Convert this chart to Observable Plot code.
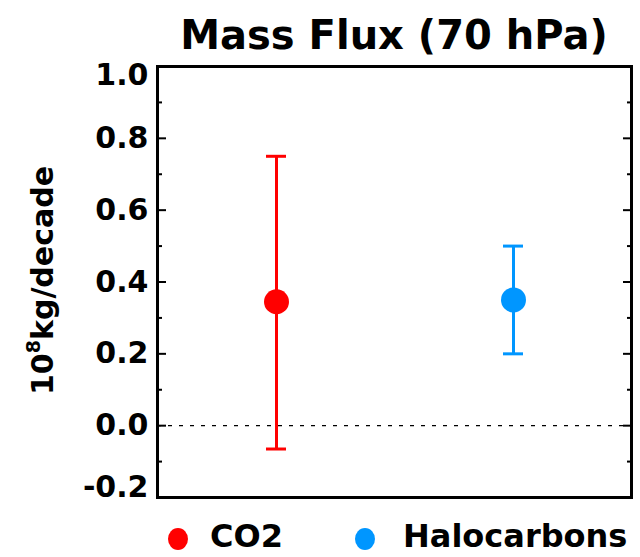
<!DOCTYPE html>
<html><head><meta charset="utf-8">
<script src="https://cdn.jsdelivr.net/npm/d3@7"></script>
<script src="https://cdn.jsdelivr.net/npm/@observablehq/plot@0.6"></script>
<style>
body{margin:0;background:#fff;}
#wrap{position:relative;width:640px;height:557px;overflow:hidden;font-family:"DejaVu Sans",sans-serif;font-weight:bold;color:#000;}
#chart{position:absolute;left:0;top:0;}
#title{position:absolute;left:157px;width:474px;top:12px;text-align:center;font-size:40px;line-height:normal;white-space:nowrap;}
#ylabel{position:absolute;left:-108px;width:300px;top:263px;height:35px;line-height:normal;font-size:30px;text-align:center;transform:rotate(-90deg);transform-origin:50% 50%;white-space:nowrap;}
#ylabel sup{font-size:19px;line-height:0;vertical-align:0;position:relative;top:-13px;}
.leg{position:absolute;top:517px;font-size:32px;line-height:normal;white-space:nowrap;}
.sw{position:absolute;width:20px;height:22px;border-radius:50%;top:528px;}
</style></head><body>
<div id="wrap">
<div id="chart"></div>
<div id="title"></div>
<div id="ylabel">10<sup>8</sup>kg/decade</div>
<div id="legend"></div>
</div>
<script>
const titleText = "Mass Flux (70 hPa)";
const categories = ["CO2", "Halocarbons"];
const means = [0.345, 0.35];
const lows = [-0.065, 0.20];
const highs = [0.75, 0.50];
const colors = ["#ff0000", "#0096ff"];
const majorTicks = [-0.2, 0.0, 0.2, 0.4, 0.6, 0.8, 1.0];
const minorTicks = [-0.1, 0.1, 0.3, 0.5, 0.7, 0.9];
const innerLabels = [0.0, 0.2, 0.4, 0.6, 0.8];

const data = categories.map((c, i) => ({name: c, mean: means[i], lo: lows[i], hi: highs[i], color: colors[i]}));
const fmt = d => d.toFixed(1);
const pi = 1 - 20 / 237;
const txt = {fontSize: 30, fontWeight: "bold", fill: "black", stroke: "none", tickSize: 0, tickPadding: 9, tickFormat: fmt, label: null};

const plot = Plot.plot({
  width: 640, height: 557,
  marginLeft: 157, marginRight: 9, marginTop: 66, marginBottom: 60,
  style: {fontFamily: "DejaVu Sans", fontWeight: "bold", background: "white"},
  x: {type: "band", domain: categories, paddingInner: pi, paddingOuter: pi / 2, axis: null},
  y: {domain: [-0.2, 1.0], axis: null, label: null},
  marks: [
    Plot.ruleY([0], {stroke: "black", strokeWidth: 1.3, strokeDasharray: "4,7"}),
    Plot.axisY({ticks: majorTicks, anchor: "left", tickSize: -9, strokeWidth: 2, fill: "none", label: null}),
    Plot.axisY({ticks: majorTicks, anchor: "right", tickSize: -9, strokeWidth: 2, fill: "none", label: null}),
    Plot.axisY({ticks: minorTicks, anchor: "left", tickSize: -5, strokeWidth: 2, fill: "none", label: null}),
    Plot.axisY({ticks: minorTicks, anchor: "right", tickSize: -5, strokeWidth: 2, fill: "none", label: null}),
    Plot.axisY({ticks: innerLabels, anchor: "left", ...txt}),
    Plot.axisY({ticks: [1.0], anchor: "left", dy: 9, ...txt}),
    Plot.axisY({ticks: [-0.2], anchor: "left", dy: -10, ...txt}),
    Plot.ruleX(data, {x: "name", y1: "lo", y2: "hi", stroke: "color", strokeWidth: 3}),
    Plot.tickY(data, {x: "name", y: "hi", stroke: "color", strokeWidth: 3}),
    Plot.tickY(data, {x: "name", y: "lo", stroke: "color", strokeWidth: 3}),
    Plot.dot(data, {x: "name", y: "mean", r: 12.5, fill: "color", stroke: "none"}),
    Plot.frame({stroke: "black", strokeWidth: 3})
  ]
});
document.getElementById("chart").append(plot);
document.getElementById("title").textContent = titleText;

const legend = document.getElementById("legend");
const swLeft = [168, 355];
const txLeft = [210, 403];
categories.forEach((c, i) => {
  const sw = document.createElement("div");
  sw.className = "sw";
  sw.style.left = swLeft[i] + "px";
  sw.style.background = colors[i];
  legend.append(sw);
  const t = document.createElement("div");
  t.className = "leg";
  t.style.left = txLeft[i] + "px";
  t.textContent = c;
  legend.append(t);
});
</script>
</body></html>
